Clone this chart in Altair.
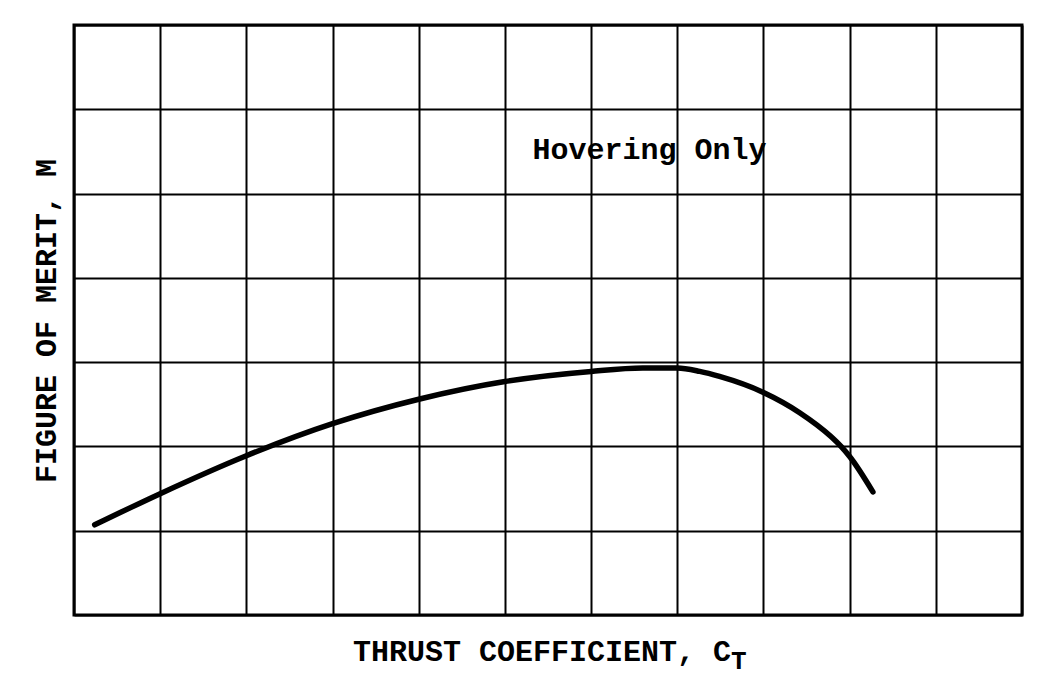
import altair as alt
import pandas as pd

# Curve (grid units: 11 columns x 7 rows)
ct = [0.24, 1.00, 2.00, 3.00, 4.00, 5.00, 6.00, 6.60, 7.00, 7.26, 7.49, 8.00, 8.42, 8.78, 8.90, 9.00, 9.27]
merit = [1.07, 1.44, 1.89, 2.27, 2.56, 2.77, 2.89, 2.93, 2.93, 2.89, 2.83, 2.64, 2.40, 2.12, 2.00, 1.88, 1.46]

x_grid = list(range(0, 12))
y_grid = list(range(0, 8))

W, H = 948, 590
FONT = "Liberation Mono"

df = pd.DataFrame({"ct": ct, "m": merit})

xs = alt.Scale(domain=[0, 11], nice=False, zero=False)
ys = alt.Scale(domain=[0, 7], nice=False, zero=False)

xaxis = alt.Axis(values=x_grid, labels=False, ticks=False, domain=False, grid=True,
                 gridColor="black", gridWidth=2, gridOpacity=1, title=None)
yaxis = alt.Axis(values=y_grid, labels=False, ticks=False, domain=False, grid=True,
                 gridColor="black", gridWidth=2, gridOpacity=1, title=None)

curve = alt.Chart(df).mark_line(color="black", strokeWidth=5.5, interpolate="monotone",
                                strokeCap="round").encode(
    x=alt.X("ct:Q", scale=xs, axis=xaxis),
    y=alt.Y("m:Q", scale=ys, axis=yaxis),
)

note = alt.Chart(pd.DataFrame({"x": [5.32], "y": [5.52], "t": ["Hovering Only"]})).mark_text(
    font=FONT, fontSize=30, fontWeight="bold", align="left", baseline="middle", color="black"
).encode(x=alt.X("x:Q", scale=xs), y=alt.Y("y:Q", scale=ys), text="t:N")

xtitle = alt.Chart(pd.DataFrame({"t": ["THRUST COEFFICIENT, C"]})).mark_text(
    font=FONT, fontSize=30, fontWeight="bold", align="left", baseline="middle", color="black"
).encode(x=alt.value(279), y=alt.value(627), text="t:N")

xsub = alt.Chart(pd.DataFrame({"t": ["T"]})).mark_text(
    font=FONT, fontSize=26, fontWeight="bold", align="left", baseline="middle", color="black"
).encode(x=alt.value(657), y=alt.value(636), text="t:N")

ytitle = alt.Chart(pd.DataFrame({"t": ["FIGURE OF MERIT, M"]})).mark_text(
    font=FONT, fontSize=30, fontWeight="bold", align="center", baseline="middle",
    color="black", angle=270
).encode(x=alt.value(-27), y=alt.value(296), text="t:N")

chart = alt.layer(curve, note, xtitle, xsub, ytitle).properties(
    width=W, height=H,
    padding={"left": 74, "top": 25, "right": 32, "bottom": 67},
    autosize=alt.AutoSizeParams(type="none"),
    background="white",
).configure_view(stroke="black", strokeWidth=3)

chart.save("out.html", embed_options={"renderer": "svg", "actions": False})
